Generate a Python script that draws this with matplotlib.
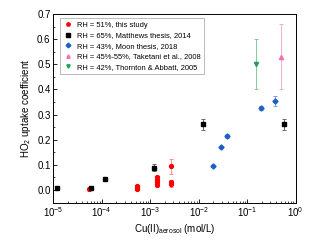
import numpy as np
import matplotlib.pyplot as plt
from matplotlib.lines import Line2D
from matplotlib.ticker import LogLocator, MultipleLocator, NullFormatter

# RH = 51%, this study
cu_this = [5.5e-5, 5.4e-4, 5.4e-4, 5.4e-4, 1.38e-3, 1.38e-3, 1.38e-3, 1.38e-3, 2.7e-3, 2.7e-3, 2.7e-3]
gam_this = [0.003, 0.005, 0.010, 0.015, 0.020, 0.030, 0.040, 0.050, 0.095, 0.030, 0.022]
err_this = [0.003, 0.005, 0.005, 0.005, 0.005, 0.005, 0.005, 0.005, 0.030, 0.010, 0.010]

# RH = 65%, Matthews thesis
cu_matt = [1.2e-5, 5.9e-5, 1.18e-4, 1.17e-3, 0.012, 0.57]
gam_matt = [0.007, 0.007, 0.043, 0.089, 0.262, 0.262]
err_matt = [0.003, 0.003, 0.004, 0.015, 0.022, 0.022]

# RH = 43%, Moon thesis
cu_moon = [0.0195, 0.029, 0.038, 0.19, 0.38]
gam_moon = [0.095, 0.171, 0.214, 0.328, 0.355]
err_moon = [0.005, 0.005, 0.008, 0.008, 0.02]

# Taketani et al.
cu_tak = [0.49]
gam_tak = [0.53]
err_tak = [0.13]

# Thornton & Abbatt
cu_thor = [0.155]
gam_thor = [0.50]
err_thor = [0.10]

labels = ['RH = 51%, this study', 'RH = 65%, Matthews thesis, 2014', 'RH = 43%, Moon thesis, 2018',
          'RH = 45%-55%, Taketani et al., 2008', 'RH = 42%, Thornton & Abbatt, 2005']
colors = ['#ff0000', 'black', '#1f5fc8', '#f070b0', '#20a050']
ecolors = ['#ff8080', '#555555', '#7090d0', '#f0a0c8', '#70c090']
markers = ['o', 's', 'D', '^', 'v']
msizes = [2.8, 2.6, 2.6, 3.0, 3.0]

plt.rcParams['font.family'] = ['Liberation Sans', 'DejaVu Sans']
fig = plt.figure(figsize=(3.13, 2.43), dpi=100)
ax = fig.add_axes([53.3 / 313, (243 - 202.6) / 243, (295.7 - 53.3) / 313, (202.6 - 14) / 243])

kw = dict(linestyle='none', capsize=1.5, elinewidth=0.6, capthick=0.6)
series = [(cu_this, gam_this, err_this), (cu_matt, gam_matt, err_matt), (cu_moon, gam_moon, err_moon),
          (cu_tak, gam_tak, err_tak), (cu_thor, gam_thor, err_thor)]
for i, (xs, ys, es) in enumerate(series):
    ax.errorbar(xs, ys, yerr=es, fmt=markers[i], color=colors[i], ecolor=ecolors[i],
                markersize=msizes[i], **kw)

ax.set_xscale('log')
ax.set_xlim(1e-5, 1)
ax.set_ylim(-0.05, 0.7)
ax.yaxis.set_major_locator(MultipleLocator(0.1))
ax.yaxis.set_minor_locator(MultipleLocator(0.05))
ax.xaxis.set_major_locator(LogLocator(base=10, numticks=10))
ax.xaxis.set_minor_locator(LogLocator(base=10, subs=np.arange(2, 10), numticks=10))
ax.xaxis.set_minor_formatter(NullFormatter())
ax.yaxis.set_major_formatter(plt.FuncFormatter(lambda v, p: '%.1f' % v))
ax.tick_params(direction='in', which='major', length=3, width=0.6, labelsize=7, pad=2)
ax.tick_params(direction='in', which='minor', length=1.5, width=0.5)
for s in ax.spines.values():
    s.set_linewidth(0.7)

ax.set_xlabel('Cu(II)$_{\\mathregular{aerosol}}$ (mol/L)', fontsize=7, labelpad=2)
ax.set_ylabel('HO$_{\\mathregular{2}}$ uptake coefficient', fontsize=7, labelpad=3)

handles = [Line2D([], [], linestyle='none', marker=markers[i], color=colors[i], markersize=2.4)
           for i in range(len(labels))]
leg = ax.legend(handles, labels, loc='upper left', bbox_to_anchor=(0.028, 0.979), fontsize=5.4,
                frameon=True, fancybox=False, edgecolor='#888888', handlelength=1.2,
                handletextpad=0.6, borderpad=0.45, labelspacing=0.45, borderaxespad=0)
leg.get_frame().set_linewidth(0.5)

fig.savefig('out.png', dpi=100)
